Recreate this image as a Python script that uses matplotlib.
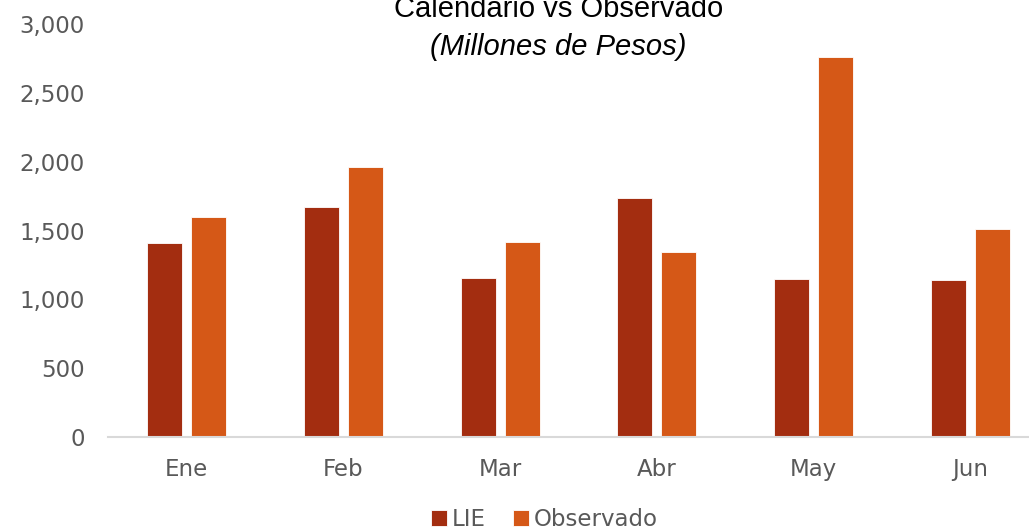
import numpy as np
import matplotlib.pyplot as plt
from matplotlib.ticker import FuncFormatter

# data (millones de pesos)
meses = ['Ene', 'Feb', 'Mar', 'Abr', 'May', 'Jun']
lie = [1410, 1671, 1155, 1737, 1148, 1141]
observado = [1599, 1962, 1417, 1344, 2761, 1511]

col_lie = '#A32D10'
col_obs = '#D55817'
gris = '#595959'

fig = plt.figure(figsize=(10.29, 5.30), dpi=100)
ax = fig.add_axes([0.1054, 0.1755, 0.9135, 0.779])

x = np.arange(len(meses))
w = 0.223
ax.bar(x - 0.14, lie, w, color=col_lie, edgecolor='white', linewidth=0.6, label='LIE')
ax.bar(x + 0.14, observado, w, color=col_obs, edgecolor='white', linewidth=0.6, label='Observado')

ax.set_xlim(-0.5, len(meses) - 0.5)
ax.set_ylim(0, 3000)
ax.set_yticks(np.arange(0, 3001, 500))
ax.yaxis.set_major_formatter(FuncFormatter(lambda v, p: f'{int(v):,}'))
ax.set_xticks(x)
ax.set_xticklabels(meses)

for s in ['top', 'right', 'left']:
    ax.spines[s].set_visible(False)
ax.spines['bottom'].set_color('#d9d9d9')
ax.spines['bottom'].set_linewidth(1.5)
ax.tick_params(axis='both', length=0, labelsize=16.5, labelcolor=gris)
ax.tick_params(axis='y', pad=17)
ax.tick_params(axis='x', pad=15)
ax.patch.set_alpha(0)

# title is partly cut at the top edge, as in the reference
fig.text(0.543, 0.968, 'Calendario vs Observado', ha='center', va='baseline',
         fontsize=21, family='Liberation Sans')
fig.text(0.543, 0.896, '(Millones de Pesos)', ha='center', va='baseline',
         fontsize=21, style='italic', family='Liberation Sans')

leg = fig.legend(loc='lower center', bbox_to_anchor=(0.529, -0.04), ncol=2, frameon=False,
                 fontsize=16.5, handlelength=0.7, handleheight=0.7, handletextpad=0.2,
                 columnspacing=1.2)
for t in leg.get_texts():
    t.set_color(gris)

fig.savefig('out.png', dpi=100)
